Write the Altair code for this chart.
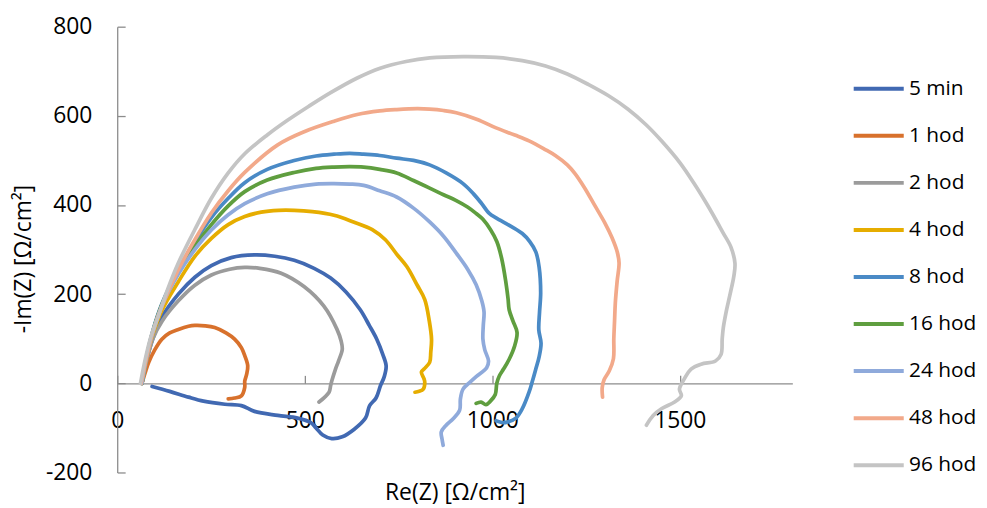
import altair as alt
import pandas as pd

series_names = ["5 min", "1 hod", "2 hod", "4 hod", "8 hod", "16 hod", "24 hod", "48 hod", "96 hod"]
series_colors = ["#4169B2", "#D8712C", "#9B9B9B", "#E6AD00", "#4A8AC6",
                 "#5F9E3F", "#8FAADB", "#F2A98A", "#C4C4C4"]

x_ticks = [0, 500, 1000, 1500]
y_ticks = [-200, 0, 200, 400, 600, 800]

x_5min = [66, 78, 95, 120, 163, 207, 251, 304, 366, 420, 472, 525, 569, 610, 648, 672, 692, 708, 717, 712,
          702, 690, 673, 662, 632, 600, 572, 548, 530, 516, 481, 428, 366, 331, 287, 230, 190, 140, 93]
y_5min = [0, 50, 100, 150, 200, 238, 264, 282, 288, 285, 276, 258, 236, 205, 165, 130, 99, 65, 39, 15,
          -5, -33, -50, -78, -103, -120, -124, -116, -100, -88, -78, -72, -63, -50, -47, -40, -31, -18, -7]

x_1hod = [66, 75, 84, 100, 119, 140, 163, 190, 207, 235, 260, 290, 313, 331, 340, 348, 345, 340, 340, 331, 313, 296]
y_1hod = [0, 25, 47, 75, 99, 113, 121, 128, 130, 129, 125, 113, 99, 80, 62, 39, 20, 5, -9, -28, -33, -35]

x_2hod = [66, 78, 95, 120, 163, 207, 251, 300, 340, 380, 437, 498, 551, 586, 597, 600, 590, 582, 572, 569, 565, 552, 538]
y_2hod = [0, 50, 100, 140, 185, 220, 243, 256, 260, 258, 247, 217, 173, 121, 95, 76, 50, 32, 5, -5, -20, -32, -42]

x_4hod = [66, 78, 95, 120, 163, 207, 251, 296, 340, 384, 430, 472, 520, 578, 630, 680, 715, 745, 772, 800, 820,
          832, 838, 836, 833, 818, 811, 818, 820, 816, 805, 794]
y_4hod = [0, 55, 110, 165, 228, 285, 325, 356, 374, 384, 388, 388, 385, 377, 362, 345, 322, 290, 262, 220, 188,
          140, 99, 70, 47, 32, 25, 10, 2, -13, -18, -20]

x_8hod = [66, 78, 95, 120, 163, 207, 251, 296, 340, 400, 472, 530, 578, 620, 657, 700, 745, 790, 833, 877, 922,
          950, 970, 992, 1010, 1050, 1080, 1100, 1116, 1125, 1129, 1126, 1124, 1130, 1125, 1116, 1107, 1098, 1080,
          1063, 1040, 1027, 1010]
y_8hod = [0, 58, 118, 180, 255, 318, 372, 415, 450, 480, 500, 510, 514, 516, 514, 511, 505, 500, 490, 472, 448,
          425, 405, 381, 371, 352, 336, 318, 295, 260, 203, 160, 120, 90, 60, 32, 5, -20, -57,
          -78, -87, -88, -84]

x_16hod = [66, 78, 95, 120, 163, 207, 251, 296, 340, 400, 472, 530, 578, 620, 657, 700, 745, 790, 833, 870, 904,
           935, 957, 975, 995, 1012, 1025, 1036, 1042, 1045, 1055, 1066, 1060, 1045, 1030, 1019, 1012, 1008, 995,
           983, 970, 957]
y_16hod = [0, 58, 116, 178, 250, 308, 356, 398, 430, 456, 473, 482, 485, 486, 485, 480, 472, 455, 438, 423, 410,
           395, 381, 368, 345, 318, 280, 228, 190, 165, 140, 114, 85, 54, 32, 17, 0, -25, -40,
           -48, -42, -45]

x_24hod = [66, 78, 95, 120, 163, 207, 251, 296, 340, 400, 472, 530, 578, 620, 657, 700, 745, 790, 833, 870, 904,
           935, 957, 972, 978, 976, 975, 980, 990, 985, 957, 940, 922, 915, 913, 895, 877, 864, 866, 869]
y_24hod = [0, 57, 114, 175, 245, 300, 344, 378, 403, 425, 440, 447, 448, 447, 444, 432, 418, 393, 362, 330, 292,
           255, 221, 185, 160, 130, 99, 75, 50, 35, 15, 2, -13, -35, -60, -80, -94, -109, -125, -139]

x_48hod = [64, 78, 95, 120, 163, 207, 251, 296, 340, 428, 500, 578, 640, 700, 745, 800, 833, 870, 904, 960,
           1010, 1060, 1098, 1140, 1168, 1200, 1221, 1245, 1274, 1300, 1319, 1333, 1338, 1333, 1328, 1326, 1324,
           1323, 1312, 1298, 1293, 1294]
y_48hod = [0, 57, 115, 175, 255, 322, 382, 432, 473, 535, 565, 588, 603, 611, 614, 616, 615, 612, 607, 592,
           573, 557, 544, 525, 511, 490, 470, 440, 398, 360, 327, 295, 270, 230, 180, 140, 100,
           55, 28, 8, -10, -31]

x_96hod = [62, 75, 90, 110, 135, 163, 207, 251, 296, 340, 400, 454, 510, 569, 640, 701, 770, 833, 922, 1010, 1080,
           1142, 1200, 1257, 1310, 1362, 1410, 1451, 1500, 1539, 1570, 1592, 1615, 1636, 1647, 1644, 1638, 1630,
           1623, 1616, 1613, 1610, 1595, 1557, 1530, 1512, 1499, 1504, 1486, 1451, 1429, 1411]
y_96hod = [0, 55, 105, 152, 212, 270, 345, 415, 472, 515, 557, 590, 621, 652, 685, 707, 722, 730, 733, 731, 724,
           712, 694, 670, 645, 615, 580, 544, 495, 447, 405, 373, 338, 306, 269, 240, 215, 185,
           158, 125, 100, 65, 50, 43, 32, 10, -13, -28, -42, -57, -72, -94]

xs = [x_5min, x_1hod, x_2hod, x_4hod, x_8hod, x_16hod, x_24hod, x_48hod, x_96hod]
ys = [y_5min, y_1hod, y_2hod, y_4hod, y_8hod, y_16hod, y_24hod, y_48hod, y_96hod]

rows = []
for name, sx, sy in zip(series_names, xs, ys):
    for i, (a, b) in enumerate(zip(sx, sy)):
        rows.append({"s": name, "x": a, "y": b, "i": i})
df = pd.DataFrame(rows)

FONT = "Open Sans"
AXIS_GRAY = "#8c8c8c"

chart = alt.Chart(df).mark_line(
    strokeWidth=3.75, interpolate="catmull-rom", strokeCap="round", strokeJoin="round"
).encode(
    x=alt.X("x:Q",
            scale=alt.Scale(domain=[0, 1800], nice=False, zero=False),
            axis=alt.Axis(values=x_ticks, offset=-89.8, title="Re(Z) [Ω/cm²]",
                          titleY=110, titleBaseline="middle", labelFlush=False,
                          labelExpr="'' + datum.value",
                          tickSize=alt.ExprRef("-8"), labelPadding=34.5, grid=False)),
    y=alt.Y("y:Q",
            scale=alt.Scale(domain=[-200, 800], nice=False, zero=False),
            axis=alt.Axis(values=y_ticks, title="-Im(Z) [Ω/cm²]",
                          titleX=-94.5, titleY=233.5, titleBaseline="middle", labelFlush=False,
                          labelExpr="'' + datum.value",
                          tickSize=alt.ExprRef("-8"), labelPadding=33.5, grid=False)),
    color=alt.Color("s:N",
                    scale=alt.Scale(domain=series_names, range=series_colors),
                    legend=alt.Legend(orient="none", legendX=756, legendY=51.5, title=None,
                                      symbolType="M-2.8,0H2.8", symbolSize=324, symbolStrokeWidth=4,
                                      labelFont=FONT, labelFontSize=21, labelColor="#000000",
                                      labelOffset=19.5, rowPadding=26.4, padding=0, labelLimit=300)),
    order=alt.Order("i:Q"),
).properties(
    width=680, height=449,
    autosize=alt.AutoSizeParams(type="none"),
    padding={"left": 110, "top": 17, "right": 188, "bottom": 40},
).configure_view(
    stroke=None
).configure_axis(
    domainColor=AXIS_GRAY, tickColor=AXIS_GRAY, domainWidth=1.3, tickWidth=1.3,
    labelFont=FONT, labelFontSize=23, labelColor="#000000",
    titleFont=FONT, titleFontSize=23, titleColor="#000000", titleFontWeight="normal",
)

chart.save("out.html", embed_options={"renderer": "svg", "actions": False})
